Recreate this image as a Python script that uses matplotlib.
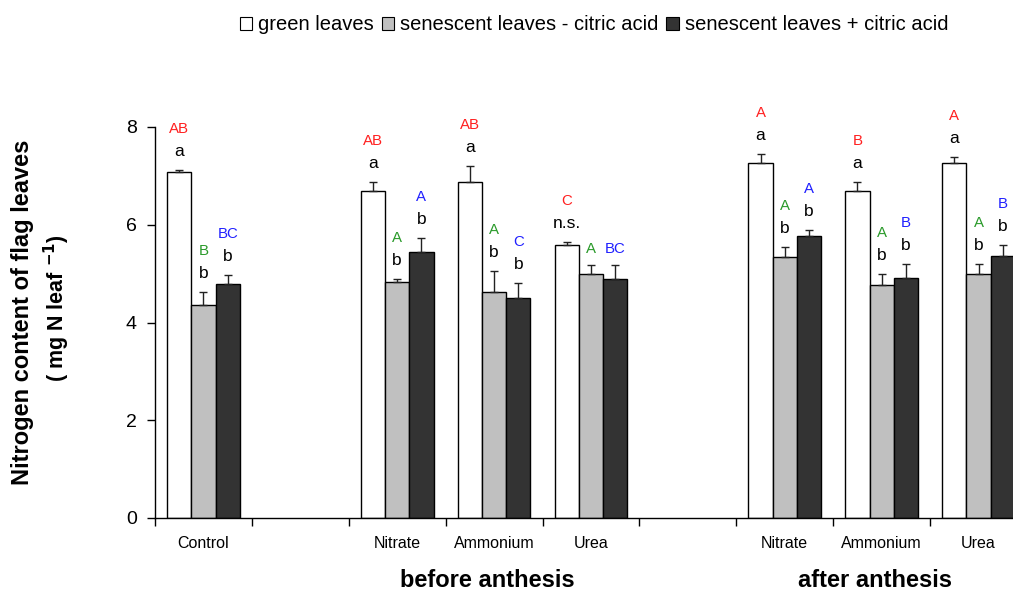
import matplotlib
matplotlib.use("Agg")
import matplotlib.pyplot as plt
from matplotlib.patches import Patch
import numpy as np

plt.rcParams['font.family'] = ['Liberation Sans', 'DejaVu Sans']

# x-axis slots (empty strings are spacer slots)
slot_labels = ['Control', '', 'Nitrate', 'Ammonium', 'Urea', '', 'Nitrate', 'Ammonium', 'Urea']
group_slots = [0, 2, 3, 4, 6, 7, 8]

series_names = ['green leaves', 'senescent leaves - citric acid', 'senescent leaves + citric acid']

green = [7.07, 6.69, 6.88, 5.59, 7.26, 6.69, 7.26]
green_err = [0.06, 0.19, 0.33, 0.06, 0.19, 0.19, 0.13]
sen_minus = [4.36, 4.83, 4.62, 5.00, 5.33, 4.76, 5.00]
sen_minus_err = [0.27, 0.07, 0.43, 0.17, 0.21, 0.23, 0.20]
sen_plus = [4.79, 5.44, 4.50, 4.90, 5.77, 4.92, 5.37]
sen_plus_err = [0.19, 0.29, 0.30, 0.28, 0.12, 0.28, 0.21]

# significance letters: lowercase within a treatment, uppercase across treatments
lower_green = ['a', 'a', 'a', 'n.s.', 'a', 'a', 'a']
lower_minus = ['b', 'b', 'b', '', 'b', 'b', 'b']
lower_plus = ['b', 'b', 'b', '', 'b', 'b', 'b']
upper_green = ['AB', 'AB', 'AB', 'C', 'A', 'B', 'A']
upper_minus = ['B', 'A', 'A', 'A', 'A', 'A', 'A']
upper_plus = ['BC', 'A', 'C', 'BC', 'A', 'B', 'B']

period_labels = ['before anthesis', 'after anthesis']

values = [green, sen_minus, sen_plus]
errors = [green_err, sen_minus_err, sen_plus_err]
lowers = [lower_green, lower_minus, lower_plus]
uppers = [upper_green, upper_minus, upper_plus]
fill_colors = ['white', '#c0c0c0', '#333333']
upper_colors = ['#ff2020', '#2a9a2a', '#2020ff']

W, H = 1013, 592
fig = plt.figure(figsize=(W / 100, H / 100), dpi=100)
ax_left, ax_right = 155 / W, 1027 / W
ax_bottom, ax_top = (H - 518) / H, (H - 127) / H
ax = fig.add_axes([ax_left, ax_bottom, ax_right - ax_left, ax_top - ax_bottom])

bar_w = 0.25
centers = np.array(group_slots) + 0.5
for k in range(3):
    xs = centers + (k - 1) * bar_w
    ax.bar(xs, values[k], width=bar_w, color=fill_colors[k], edgecolor='black',
           linewidth=1.0, zorder=2)
    ax.errorbar(xs, values[k], yerr=[np.zeros(len(xs)), errors[k]], fmt='none',
                ecolor='#222222', elinewidth=1.0, capsize=2.8, capthick=1.0, zorder=3)
    for i, x in enumerate(xs):
        top = values[k][i] + errors[k][i]
        lo = lowers[k][i]
        if lo:
            ax.annotate(lo, (x, top), xytext=(0, 14), textcoords='offset pixels',
                        ha='center', va='baseline', fontsize=12.5, color='black')
            up_off = 37
        else:
            up_off = 12
        ax.annotate(uppers[k][i], (x, top), xytext=(0, up_off), textcoords='offset pixels',
                    ha='center', va='baseline', fontsize=10.8, color=upper_colors[k])

ax.set_xlim(0, 9)
ax.set_ylim(0, 8)
ax.set_yticks([0, 2, 4, 6, 8])
ax.tick_params(axis='y', labelsize=14, direction='out', length=6, width=1, pad=7)
ax.set_xticks(np.arange(0, 10))
ax.set_xticklabels([])
ax.tick_params(axis='x', which='major', direction='out', length=6, width=1)
ax.set_xticks(np.arange(9) + 0.5, minor=True)
ax.set_xticklabels(slot_labels, minor=True)
ax.tick_params(axis='x', which='minor', length=0, pad=13, labelsize=11.5)

for side in ['top', 'right']:
    ax.spines[side].set_visible(False)
for side in ['left', 'bottom']:
    ax.spines[side].set_linewidth(1.0)
ax.patch.set_visible(False)

# period labels under the axis
for label, (a, b) in zip(period_labels, [(2, 5), (6, 9)]):
    xc = (a + b) / 2
    ax.text(xc - 0.07, -0.161, label, transform=ax.get_xaxis_transform(), ha='center',
            va='center', fontsize=17, fontweight='bold')

# y-axis title on two lines
fig.text(23 / W, 1 - 312 / H, 'Nitrogen content of flag leaves', rotation=90,
         ha='center', va='center', fontsize=17, fontweight='bold')
fig.text(57 / W, 1 - 308 / H, '( mg N leaf $^{\\mathbf{-1}}$)', rotation=90,
         ha='center', va='center', fontsize=15.5, fontweight='bold')

handles = [Patch(facecolor=c, edgecolor='black', linewidth=0.8) for c in fill_colors]
fig.legend(handles, series_names, loc='center', bbox_to_anchor=(594 / W, 1 - 25 / H),
           ncol=3, frameon=False, fontsize=14.5, handlelength=0.6, handleheight=0.6,
           handletextpad=0.3, columnspacing=0.4)

fig.savefig('out.png', dpi=100)
